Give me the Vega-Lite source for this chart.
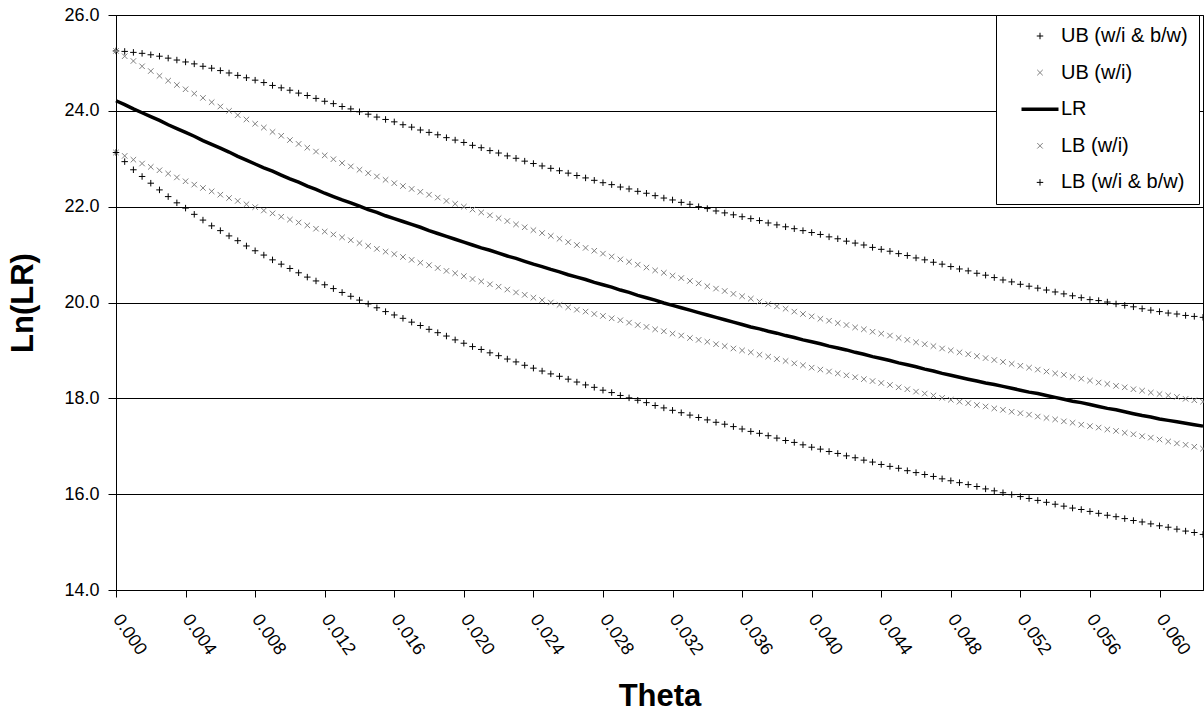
{
"$schema": "https://vega.github.io/schema/vega-lite/v6.json",
"width": 1087,
"height": 575,
"autosize": {"type": "none"},
"padding": {"left": 116, "top": 15, "right": 1, "bottom": 123},
"background": "white",
"config": {"font": "Liberation Sans", "view": {"stroke": "#000", "strokeWidth": 1}},
"datasets": {"curves": [
{"theta":0,"series":"UB (w/i & b/w)","lnLR":25.25},{"theta":0.0005,"series":"UB (w/i & b/w)","lnLR":25.24},{"theta":0.001,"series":"UB (w/i & b/w)","lnLR":25.22},{"theta":0.0015,"series":"UB (w/i & b/w)","lnLR":25.2},{"theta":0.002,"series":"UB (w/i & b/w)","lnLR":25.17},{"theta":0.0025,"series":"UB (w/i & b/w)","lnLR":25.14},{"theta":0.003,"series":"UB (w/i & b/w)","lnLR":25.1},{"theta":0.0035,"series":"UB (w/i & b/w)","lnLR":25.06},{"theta":0.004,"series":"UB (w/i & b/w)","lnLR":25.02},{"theta":0.0045,"series":"UB (w/i & b/w)","lnLR":24.98},{"theta":0.005,"series":"UB (w/i & b/w)","lnLR":24.93},{"theta":0.0055,"series":"UB (w/i & b/w)","lnLR":24.89},{"theta":0.006,"series":"UB (w/i & b/w)","lnLR":24.84},{"theta":0.0065,"series":"UB (w/i & b/w)","lnLR":24.79},{"theta":0.007,"series":"UB (w/i & b/w)","lnLR":24.74},{"theta":0.0075,"series":"UB (w/i & b/w)","lnLR":24.69},{"theta":0.008,"series":"UB (w/i & b/w)","lnLR":24.64},{"theta":0.0085,"series":"UB (w/i & b/w)","lnLR":24.59},{"theta":0.009,"series":"UB (w/i & b/w)","lnLR":24.53},{"theta":0.0095,"series":"UB (w/i & b/w)","lnLR":24.48},{"theta":0.01,"series":"UB (w/i & b/w)","lnLR":24.43},{"theta":0.0105,"series":"UB (w/i & b/w)","lnLR":24.37},{"theta":0.011,"series":"UB (w/i & b/w)","lnLR":24.32},{"theta":0.0115,"series":"UB (w/i & b/w)","lnLR":24.26},{"theta":0.012,"series":"UB (w/i & b/w)","lnLR":24.2},{"theta":0.0125,"series":"UB (w/i & b/w)","lnLR":24.15},{"theta":0.013,"series":"UB (w/i & b/w)","lnLR":24.09},{"theta":0.0135,"series":"UB (w/i & b/w)","lnLR":24.04},{"theta":0.014,"series":"UB (w/i & b/w)","lnLR":23.98},{"theta":0.0145,"series":"UB (w/i & b/w)","lnLR":23.93},{"theta":0.015,"series":"UB (w/i & b/w)","lnLR":23.87},{"theta":0.0155,"series":"UB (w/i & b/w)","lnLR":23.82},{"theta":0.016,"series":"UB (w/i & b/w)","lnLR":23.77},{"theta":0.0165,"series":"UB (w/i & b/w)","lnLR":23.71},{"theta":0.017,"series":"UB (w/i & b/w)","lnLR":23.66},{"theta":0.0175,"series":"UB (w/i & b/w)","lnLR":23.6},{"theta":0.018,"series":"UB (w/i & b/w)","lnLR":23.55},{"theta":0.0185,"series":"UB (w/i & b/w)","lnLR":23.5},{"theta":0.019,"series":"UB (w/i & b/w)","lnLR":23.44},{"theta":0.0195,"series":"UB (w/i & b/w)","lnLR":23.39},{"theta":0.02,"series":"UB (w/i & b/w)","lnLR":23.34},{"theta":0.0205,"series":"UB (w/i & b/w)","lnLR":23.28},{"theta":0.021,"series":"UB (w/i & b/w)","lnLR":23.23},{"theta":0.0215,"series":"UB (w/i & b/w)","lnLR":23.17},{"theta":0.022,"series":"UB (w/i & b/w)","lnLR":23.12},{"theta":0.0225,"series":"UB (w/i & b/w)","lnLR":23.06},{"theta":0.023,"series":"UB (w/i & b/w)","lnLR":23.01},{"theta":0.0235,"series":"UB (w/i & b/w)","lnLR":22.95},{"theta":0.024,"series":"UB (w/i & b/w)","lnLR":22.9},{"theta":0.0245,"series":"UB (w/i & b/w)","lnLR":22.85},{"theta":0.025,"series":"UB (w/i & b/w)","lnLR":22.8},{"theta":0.0255,"series":"UB (w/i & b/w)","lnLR":22.75},{"theta":0.026,"series":"UB (w/i & b/w)","lnLR":22.7},{"theta":0.0265,"series":"UB (w/i & b/w)","lnLR":22.65},{"theta":0.027,"series":"UB (w/i & b/w)","lnLR":22.6},{"theta":0.0275,"series":"UB (w/i & b/w)","lnLR":22.55},{"theta":0.028,"series":"UB (w/i & b/w)","lnLR":22.5},{"theta":0.0285,"series":"UB (w/i & b/w)","lnLR":22.46},{"theta":0.029,"series":"UB (w/i & b/w)","lnLR":22.41},{"theta":0.0295,"series":"UB (w/i & b/w)","lnLR":22.37},{"theta":0.03,"series":"UB (w/i & b/w)","lnLR":22.32},{"theta":0.0305,"series":"UB (w/i & b/w)","lnLR":22.28},{"theta":0.031,"series":"UB (w/i & b/w)","lnLR":22.23},{"theta":0.0315,"series":"UB (w/i & b/w)","lnLR":22.18},{"theta":0.032,"series":"UB (w/i & b/w)","lnLR":22.14},{"theta":0.0325,"series":"UB (w/i & b/w)","lnLR":22.09},{"theta":0.033,"series":"UB (w/i & b/w)","lnLR":22.05},{"theta":0.0335,"series":"UB (w/i & b/w)","lnLR":22.0},{"theta":0.034,"series":"UB (w/i & b/w)","lnLR":21.96},{"theta":0.0345,"series":"UB (w/i & b/w)","lnLR":21.91},{"theta":0.035,"series":"UB (w/i & b/w)","lnLR":21.87},{"theta":0.0355,"series":"UB (w/i & b/w)","lnLR":21.83},{"theta":0.036,"series":"UB (w/i & b/w)","lnLR":21.79},{"theta":0.0365,"series":"UB (w/i & b/w)","lnLR":21.75},{"theta":0.037,"series":"UB (w/i & b/w)","lnLR":21.71},{"theta":0.0375,"series":"UB (w/i & b/w)","lnLR":21.66},{"theta":0.038,"series":"UB (w/i & b/w)","lnLR":21.62},{"theta":0.0385,"series":"UB (w/i & b/w)","lnLR":21.58},{"theta":0.039,"series":"UB (w/i & b/w)","lnLR":21.54},{"theta":0.0395,"series":"UB (w/i & b/w)","lnLR":21.5},{"theta":0.04,"series":"UB (w/i & b/w)","lnLR":21.46},{"theta":0.0405,"series":"UB (w/i & b/w)","lnLR":21.42},{"theta":0.041,"series":"UB (w/i & b/w)","lnLR":21.37},{"theta":0.0415,"series":"UB (w/i & b/w)","lnLR":21.33},{"theta":0.042,"series":"UB (w/i & b/w)","lnLR":21.28},{"theta":0.0425,"series":"UB (w/i & b/w)","lnLR":21.24},{"theta":0.043,"series":"UB (w/i & b/w)","lnLR":21.2},{"theta":0.0435,"series":"UB (w/i & b/w)","lnLR":21.15},{"theta":0.044,"series":"UB (w/i & b/w)","lnLR":21.11},{"theta":0.0445,"series":"UB (w/i & b/w)","lnLR":21.07},{"theta":0.045,"series":"UB (w/i & b/w)","lnLR":21.02},{"theta":0.0455,"series":"UB (w/i & b/w)","lnLR":20.98},{"theta":0.046,"series":"UB (w/i & b/w)","lnLR":20.93},{"theta":0.0465,"series":"UB (w/i & b/w)","lnLR":20.89},{"theta":0.047,"series":"UB (w/i & b/w)","lnLR":20.84},{"theta":0.0475,"series":"UB (w/i & b/w)","lnLR":20.8},{"theta":0.048,"series":"UB (w/i & b/w)","lnLR":20.75},{"theta":0.0485,"series":"UB (w/i & b/w)","lnLR":20.7},{"theta":0.049,"series":"UB (w/i & b/w)","lnLR":20.66},{"theta":0.0495,"series":"UB (w/i & b/w)","lnLR":20.61},{"theta":0.05,"series":"UB (w/i & b/w)","lnLR":20.57},{"theta":0.0505,"series":"UB (w/i & b/w)","lnLR":20.52},{"theta":0.051,"series":"UB (w/i & b/w)","lnLR":20.47},{"theta":0.0515,"series":"UB (w/i & b/w)","lnLR":20.43},{"theta":0.052,"series":"UB (w/i & b/w)","lnLR":20.38},{"theta":0.0525,"series":"UB (w/i & b/w)","lnLR":20.34},{"theta":0.053,"series":"UB (w/i & b/w)","lnLR":20.3},{"theta":0.0535,"series":"UB (w/i & b/w)","lnLR":20.26},{"theta":0.054,"series":"UB (w/i & b/w)","lnLR":20.22},{"theta":0.0545,"series":"UB (w/i & b/w)","lnLR":20.18},{"theta":0.055,"series":"UB (w/i & b/w)","lnLR":20.14},{"theta":0.0555,"series":"UB (w/i & b/w)","lnLR":20.1},{"theta":0.056,"series":"UB (w/i & b/w)","lnLR":20.06},{"theta":0.0565,"series":"UB (w/i & b/w)","lnLR":20.04},{"theta":0.057,"series":"UB (w/i & b/w)","lnLR":20.01},{"theta":0.0575,"series":"UB (w/i & b/w)","lnLR":19.97},{"theta":0.058,"series":"UB (w/i & b/w)","lnLR":19.94},{"theta":0.0585,"series":"UB (w/i & b/w)","lnLR":19.91},{"theta":0.059,"series":"UB (w/i & b/w)","lnLR":19.87},{"theta":0.0595,"series":"UB (w/i & b/w)","lnLR":19.84},{"theta":0.06,"series":"UB (w/i & b/w)","lnLR":19.81},{"theta":0.0605,"series":"UB (w/i & b/w)","lnLR":19.78},{"theta":0.061,"series":"UB (w/i & b/w)","lnLR":19.76},{"theta":0.0615,"series":"UB (w/i & b/w)","lnLR":19.73},{"theta":0.062,"series":"UB (w/i & b/w)","lnLR":19.71},{"theta":0.0625,"series":"UB (w/i & b/w)","lnLR":19.69},
{"theta":0,"series":"UB (w/i)","lnLR":25.25},{"theta":0.0005,"series":"UB (w/i)","lnLR":25.14},{"theta":0.001,"series":"UB (w/i)","lnLR":25.04},{"theta":0.0015,"series":"UB (w/i)","lnLR":24.93},{"theta":0.002,"series":"UB (w/i)","lnLR":24.83},{"theta":0.0025,"series":"UB (w/i)","lnLR":24.73},{"theta":0.003,"series":"UB (w/i)","lnLR":24.63},{"theta":0.0035,"series":"UB (w/i)","lnLR":24.54},{"theta":0.004,"series":"UB (w/i)","lnLR":24.45},{"theta":0.0045,"series":"UB (w/i)","lnLR":24.36},{"theta":0.005,"series":"UB (w/i)","lnLR":24.27},{"theta":0.0055,"series":"UB (w/i)","lnLR":24.18},{"theta":0.006,"series":"UB (w/i)","lnLR":24.09},{"theta":0.0065,"series":"UB (w/i)","lnLR":24.0},{"theta":0.007,"series":"UB (w/i)","lnLR":23.91},{"theta":0.0075,"series":"UB (w/i)","lnLR":23.82},{"theta":0.008,"series":"UB (w/i)","lnLR":23.73},{"theta":0.0085,"series":"UB (w/i)","lnLR":23.65},{"theta":0.009,"series":"UB (w/i)","lnLR":23.56},{"theta":0.0095,"series":"UB (w/i)","lnLR":23.48},{"theta":0.01,"series":"UB (w/i)","lnLR":23.39},{"theta":0.0105,"series":"UB (w/i)","lnLR":23.31},{"theta":0.011,"series":"UB (w/i)","lnLR":23.23},{"theta":0.0115,"series":"UB (w/i)","lnLR":23.15},{"theta":0.012,"series":"UB (w/i)","lnLR":23.07},{"theta":0.0125,"series":"UB (w/i)","lnLR":22.99},{"theta":0.013,"series":"UB (w/i)","lnLR":22.91},{"theta":0.0135,"series":"UB (w/i)","lnLR":22.84},{"theta":0.014,"series":"UB (w/i)","lnLR":22.77},{"theta":0.0145,"series":"UB (w/i)","lnLR":22.7},{"theta":0.015,"series":"UB (w/i)","lnLR":22.63},{"theta":0.0155,"series":"UB (w/i)","lnLR":22.56},{"theta":0.016,"series":"UB (w/i)","lnLR":22.49},{"theta":0.0165,"series":"UB (w/i)","lnLR":22.43},{"theta":0.017,"series":"UB (w/i)","lnLR":22.37},{"theta":0.0175,"series":"UB (w/i)","lnLR":22.31},{"theta":0.018,"series":"UB (w/i)","lnLR":22.25},{"theta":0.0185,"series":"UB (w/i)","lnLR":22.19},{"theta":0.019,"series":"UB (w/i)","lnLR":22.12},{"theta":0.0195,"series":"UB (w/i)","lnLR":22.06},{"theta":0.02,"series":"UB (w/i)","lnLR":22.0},{"theta":0.0205,"series":"UB (w/i)","lnLR":21.94},{"theta":0.021,"series":"UB (w/i)","lnLR":21.88},{"theta":0.0215,"series":"UB (w/i)","lnLR":21.82},{"theta":0.022,"series":"UB (w/i)","lnLR":21.76},{"theta":0.0225,"series":"UB (w/i)","lnLR":21.7},{"theta":0.023,"series":"UB (w/i)","lnLR":21.63},{"theta":0.0235,"series":"UB (w/i)","lnLR":21.57},{"theta":0.024,"series":"UB (w/i)","lnLR":21.51},{"theta":0.0245,"series":"UB (w/i)","lnLR":21.45},{"theta":0.025,"series":"UB (w/i)","lnLR":21.39},{"theta":0.0255,"series":"UB (w/i)","lnLR":21.33},{"theta":0.026,"series":"UB (w/i)","lnLR":21.26},{"theta":0.0265,"series":"UB (w/i)","lnLR":21.2},{"theta":0.027,"series":"UB (w/i)","lnLR":21.14},{"theta":0.0275,"series":"UB (w/i)","lnLR":21.08},{"theta":0.028,"series":"UB (w/i)","lnLR":21.02},{"theta":0.0285,"series":"UB (w/i)","lnLR":20.96},{"theta":0.029,"series":"UB (w/i)","lnLR":20.9},{"theta":0.0295,"series":"UB (w/i)","lnLR":20.85},{"theta":0.03,"series":"UB (w/i)","lnLR":20.79},{"theta":0.0305,"series":"UB (w/i)","lnLR":20.73},{"theta":0.031,"series":"UB (w/i)","lnLR":20.67},{"theta":0.0315,"series":"UB (w/i)","lnLR":20.62},{"theta":0.032,"series":"UB (w/i)","lnLR":20.56},{"theta":0.0325,"series":"UB (w/i)","lnLR":20.51},{"theta":0.033,"series":"UB (w/i)","lnLR":20.45},{"theta":0.0335,"series":"UB (w/i)","lnLR":20.4},{"theta":0.034,"series":"UB (w/i)","lnLR":20.34},{"theta":0.0345,"series":"UB (w/i)","lnLR":20.29},{"theta":0.035,"series":"UB (w/i)","lnLR":20.24},{"theta":0.0355,"series":"UB (w/i)","lnLR":20.18},{"theta":0.036,"series":"UB (w/i)","lnLR":20.13},{"theta":0.0365,"series":"UB (w/i)","lnLR":20.08},{"theta":0.037,"series":"UB (w/i)","lnLR":20.02},{"theta":0.0375,"series":"UB (w/i)","lnLR":19.97},{"theta":0.038,"series":"UB (w/i)","lnLR":19.92},{"theta":0.0385,"series":"UB (w/i)","lnLR":19.87},{"theta":0.039,"series":"UB (w/i)","lnLR":19.81},{"theta":0.0395,"series":"UB (w/i)","lnLR":19.76},{"theta":0.04,"series":"UB (w/i)","lnLR":19.71},{"theta":0.0405,"series":"UB (w/i)","lnLR":19.66},{"theta":0.041,"series":"UB (w/i)","lnLR":19.62},{"theta":0.0415,"series":"UB (w/i)","lnLR":19.57},{"theta":0.042,"series":"UB (w/i)","lnLR":19.53},{"theta":0.0425,"series":"UB (w/i)","lnLR":19.48},{"theta":0.043,"series":"UB (w/i)","lnLR":19.44},{"theta":0.0435,"series":"UB (w/i)","lnLR":19.39},{"theta":0.044,"series":"UB (w/i)","lnLR":19.35},{"theta":0.0445,"series":"UB (w/i)","lnLR":19.31},{"theta":0.045,"series":"UB (w/i)","lnLR":19.26},{"theta":0.0455,"series":"UB (w/i)","lnLR":19.22},{"theta":0.046,"series":"UB (w/i)","lnLR":19.17},{"theta":0.0465,"series":"UB (w/i)","lnLR":19.13},{"theta":0.047,"series":"UB (w/i)","lnLR":19.09},{"theta":0.0475,"series":"UB (w/i)","lnLR":19.04},{"theta":0.048,"series":"UB (w/i)","lnLR":19.0},{"theta":0.0485,"series":"UB (w/i)","lnLR":18.96},{"theta":0.049,"series":"UB (w/i)","lnLR":18.92},{"theta":0.0495,"series":"UB (w/i)","lnLR":18.88},{"theta":0.05,"series":"UB (w/i)","lnLR":18.84},{"theta":0.0505,"series":"UB (w/i)","lnLR":18.8},{"theta":0.051,"series":"UB (w/i)","lnLR":18.76},{"theta":0.0515,"series":"UB (w/i)","lnLR":18.72},{"theta":0.052,"series":"UB (w/i)","lnLR":18.68},{"theta":0.0525,"series":"UB (w/i)","lnLR":18.64},{"theta":0.053,"series":"UB (w/i)","lnLR":18.6},{"theta":0.0535,"series":"UB (w/i)","lnLR":18.56},{"theta":0.054,"series":"UB (w/i)","lnLR":18.52},{"theta":0.0545,"series":"UB (w/i)","lnLR":18.49},{"theta":0.055,"series":"UB (w/i)","lnLR":18.45},{"theta":0.0555,"series":"UB (w/i)","lnLR":18.41},{"theta":0.056,"series":"UB (w/i)","lnLR":18.37},{"theta":0.0565,"series":"UB (w/i)","lnLR":18.33},{"theta":0.057,"series":"UB (w/i)","lnLR":18.3},{"theta":0.0575,"series":"UB (w/i)","lnLR":18.26},{"theta":0.058,"series":"UB (w/i)","lnLR":18.23},{"theta":0.0585,"series":"UB (w/i)","lnLR":18.19},{"theta":0.059,"series":"UB (w/i)","lnLR":18.16},{"theta":0.0595,"series":"UB (w/i)","lnLR":18.12},{"theta":0.06,"series":"UB (w/i)","lnLR":18.09},{"theta":0.0605,"series":"UB (w/i)","lnLR":18.06},{"theta":0.061,"series":"UB (w/i)","lnLR":18.03},{"theta":0.0615,"series":"UB (w/i)","lnLR":17.99},{"theta":0.062,"series":"UB (w/i)","lnLR":17.96},{"theta":0.0625,"series":"UB (w/i)","lnLR":17.93},
{"theta":0,"series":"LR","lnLR":24.21},{"theta":0.0005,"series":"LR","lnLR":24.13},{"theta":0.001,"series":"LR","lnLR":24.04},{"theta":0.0015,"series":"LR","lnLR":23.96},{"theta":0.002,"series":"LR","lnLR":23.88},{"theta":0.0025,"series":"LR","lnLR":23.8},{"theta":0.003,"series":"LR","lnLR":23.71},{"theta":0.0035,"series":"LR","lnLR":23.63},{"theta":0.004,"series":"LR","lnLR":23.55},{"theta":0.0045,"series":"LR","lnLR":23.47},{"theta":0.005,"series":"LR","lnLR":23.38},{"theta":0.0055,"series":"LR","lnLR":23.3},{"theta":0.006,"series":"LR","lnLR":23.22},{"theta":0.0065,"series":"LR","lnLR":23.14},{"theta":0.007,"series":"LR","lnLR":23.05},{"theta":0.0075,"series":"LR","lnLR":22.97},{"theta":0.008,"series":"LR","lnLR":22.89},{"theta":0.0085,"series":"LR","lnLR":22.81},{"theta":0.009,"series":"LR","lnLR":22.74},{"theta":0.0095,"series":"LR","lnLR":22.66},{"theta":0.01,"series":"LR","lnLR":22.58},{"theta":0.0105,"series":"LR","lnLR":22.51},{"theta":0.011,"series":"LR","lnLR":22.43},{"theta":0.0115,"series":"LR","lnLR":22.36},{"theta":0.012,"series":"LR","lnLR":22.28},{"theta":0.0125,"series":"LR","lnLR":22.21},{"theta":0.013,"series":"LR","lnLR":22.14},{"theta":0.0135,"series":"LR","lnLR":22.08},{"theta":0.014,"series":"LR","lnLR":22.01},{"theta":0.0145,"series":"LR","lnLR":21.94},{"theta":0.015,"series":"LR","lnLR":21.88},{"theta":0.0155,"series":"LR","lnLR":21.81},{"theta":0.016,"series":"LR","lnLR":21.75},{"theta":0.0165,"series":"LR","lnLR":21.69},{"theta":0.017,"series":"LR","lnLR":21.63},{"theta":0.0175,"series":"LR","lnLR":21.57},{"theta":0.018,"series":"LR","lnLR":21.5},{"theta":0.0185,"series":"LR","lnLR":21.44},{"theta":0.019,"series":"LR","lnLR":21.38},{"theta":0.0195,"series":"LR","lnLR":21.32},{"theta":0.02,"series":"LR","lnLR":21.26},{"theta":0.0205,"series":"LR","lnLR":21.2},{"theta":0.021,"series":"LR","lnLR":21.14},{"theta":0.0215,"series":"LR","lnLR":21.09},{"theta":0.022,"series":"LR","lnLR":21.03},{"theta":0.0225,"series":"LR","lnLR":20.97},{"theta":0.023,"series":"LR","lnLR":20.92},{"theta":0.0235,"series":"LR","lnLR":20.86},{"theta":0.024,"series":"LR","lnLR":20.8},{"theta":0.0245,"series":"LR","lnLR":20.75},{"theta":0.025,"series":"LR","lnLR":20.69},{"theta":0.0255,"series":"LR","lnLR":20.64},{"theta":0.026,"series":"LR","lnLR":20.58},{"theta":0.0265,"series":"LR","lnLR":20.53},{"theta":0.027,"series":"LR","lnLR":20.48},{"theta":0.0275,"series":"LR","lnLR":20.42},{"theta":0.028,"series":"LR","lnLR":20.37},{"theta":0.0285,"series":"LR","lnLR":20.32},{"theta":0.029,"series":"LR","lnLR":20.26},{"theta":0.0295,"series":"LR","lnLR":20.21},{"theta":0.03,"series":"LR","lnLR":20.15},{"theta":0.0305,"series":"LR","lnLR":20.1},{"theta":0.031,"series":"LR","lnLR":20.05},{"theta":0.0315,"series":"LR","lnLR":19.99},{"theta":0.032,"series":"LR","lnLR":19.94},{"theta":0.0325,"series":"LR","lnLR":19.89},{"theta":0.033,"series":"LR","lnLR":19.84},{"theta":0.0335,"series":"LR","lnLR":19.79},{"theta":0.034,"series":"LR","lnLR":19.74},{"theta":0.0345,"series":"LR","lnLR":19.69},{"theta":0.035,"series":"LR","lnLR":19.64},{"theta":0.0355,"series":"LR","lnLR":19.59},{"theta":0.036,"series":"LR","lnLR":19.54},{"theta":0.0365,"series":"LR","lnLR":19.49},{"theta":0.037,"series":"LR","lnLR":19.45},{"theta":0.0375,"series":"LR","lnLR":19.4},{"theta":0.038,"series":"LR","lnLR":19.36},{"theta":0.0385,"series":"LR","lnLR":19.31},{"theta":0.039,"series":"LR","lnLR":19.27},{"theta":0.0395,"series":"LR","lnLR":19.22},{"theta":0.04,"series":"LR","lnLR":19.18},{"theta":0.0405,"series":"LR","lnLR":19.14},{"theta":0.041,"series":"LR","lnLR":19.09},{"theta":0.0415,"series":"LR","lnLR":19.05},{"theta":0.042,"series":"LR","lnLR":19.01},{"theta":0.0425,"series":"LR","lnLR":18.96},{"theta":0.043,"series":"LR","lnLR":18.92},{"theta":0.0435,"series":"LR","lnLR":18.87},{"theta":0.044,"series":"LR","lnLR":18.83},{"theta":0.0445,"series":"LR","lnLR":18.79},{"theta":0.045,"series":"LR","lnLR":18.74},{"theta":0.0455,"series":"LR","lnLR":18.7},{"theta":0.046,"series":"LR","lnLR":18.66},{"theta":0.0465,"series":"LR","lnLR":18.61},{"theta":0.047,"series":"LR","lnLR":18.57},{"theta":0.0475,"series":"LR","lnLR":18.52},{"theta":0.048,"series":"LR","lnLR":18.48},{"theta":0.0485,"series":"LR","lnLR":18.44},{"theta":0.049,"series":"LR","lnLR":18.4},{"theta":0.0495,"series":"LR","lnLR":18.36},{"theta":0.05,"series":"LR","lnLR":18.32},{"theta":0.0505,"series":"LR","lnLR":18.29},{"theta":0.051,"series":"LR","lnLR":18.25},{"theta":0.0515,"series":"LR","lnLR":18.21},{"theta":0.052,"series":"LR","lnLR":18.17},{"theta":0.0525,"series":"LR","lnLR":18.13},{"theta":0.053,"series":"LR","lnLR":18.1},{"theta":0.0535,"series":"LR","lnLR":18.06},{"theta":0.054,"series":"LR","lnLR":18.02},{"theta":0.0545,"series":"LR","lnLR":17.98},{"theta":0.055,"series":"LR","lnLR":17.94},{"theta":0.0555,"series":"LR","lnLR":17.91},{"theta":0.056,"series":"LR","lnLR":17.87},{"theta":0.0565,"series":"LR","lnLR":17.83},{"theta":0.057,"series":"LR","lnLR":17.79},{"theta":0.0575,"series":"LR","lnLR":17.76},{"theta":0.058,"series":"LR","lnLR":17.72},{"theta":0.0585,"series":"LR","lnLR":17.68},{"theta":0.059,"series":"LR","lnLR":17.64},{"theta":0.0595,"series":"LR","lnLR":17.61},{"theta":0.06,"series":"LR","lnLR":17.57},{"theta":0.0605,"series":"LR","lnLR":17.54},{"theta":0.061,"series":"LR","lnLR":17.51},{"theta":0.0615,"series":"LR","lnLR":17.48},{"theta":0.062,"series":"LR","lnLR":17.45},{"theta":0.0625,"series":"LR","lnLR":17.42},
{"theta":0,"series":"LB (w/i)","lnLR":23.13},{"theta":0.0005,"series":"LB (w/i)","lnLR":23.06},{"theta":0.001,"series":"LB (w/i)","lnLR":22.98},{"theta":0.0015,"series":"LB (w/i)","lnLR":22.9},{"theta":0.002,"series":"LB (w/i)","lnLR":22.83},{"theta":0.0025,"series":"LB (w/i)","lnLR":22.76},{"theta":0.003,"series":"LB (w/i)","lnLR":22.69},{"theta":0.0035,"series":"LB (w/i)","lnLR":22.61},{"theta":0.004,"series":"LB (w/i)","lnLR":22.53},{"theta":0.0045,"series":"LB (w/i)","lnLR":22.46},{"theta":0.005,"series":"LB (w/i)","lnLR":22.39},{"theta":0.0055,"series":"LB (w/i)","lnLR":22.32},{"theta":0.006,"series":"LB (w/i)","lnLR":22.25},{"theta":0.0065,"series":"LB (w/i)","lnLR":22.18},{"theta":0.007,"series":"LB (w/i)","lnLR":22.12},{"theta":0.0075,"series":"LB (w/i)","lnLR":22.05},{"theta":0.008,"series":"LB (w/i)","lnLR":21.99},{"theta":0.0085,"series":"LB (w/i)","lnLR":21.92},{"theta":0.009,"series":"LB (w/i)","lnLR":21.86},{"theta":0.0095,"series":"LB (w/i)","lnLR":21.79},{"theta":0.01,"series":"LB (w/i)","lnLR":21.73},{"theta":0.0105,"series":"LB (w/i)","lnLR":21.67},{"theta":0.011,"series":"LB (w/i)","lnLR":21.61},{"theta":0.0115,"series":"LB (w/i)","lnLR":21.54},{"theta":0.012,"series":"LB (w/i)","lnLR":21.48},{"theta":0.0125,"series":"LB (w/i)","lnLR":21.42},{"theta":0.013,"series":"LB (w/i)","lnLR":21.36},{"theta":0.0135,"series":"LB (w/i)","lnLR":21.3},{"theta":0.014,"series":"LB (w/i)","lnLR":21.24},{"theta":0.0145,"series":"LB (w/i)","lnLR":21.18},{"theta":0.015,"series":"LB (w/i)","lnLR":21.12},{"theta":0.0155,"series":"LB (w/i)","lnLR":21.06},{"theta":0.016,"series":"LB (w/i)","lnLR":21.01},{"theta":0.0165,"series":"LB (w/i)","lnLR":20.95},{"theta":0.017,"series":"LB (w/i)","lnLR":20.89},{"theta":0.0175,"series":"LB (w/i)","lnLR":20.83},{"theta":0.018,"series":"LB (w/i)","lnLR":20.78},{"theta":0.0185,"series":"LB (w/i)","lnLR":20.72},{"theta":0.019,"series":"LB (w/i)","lnLR":20.66},{"theta":0.0195,"series":"LB (w/i)","lnLR":20.61},{"theta":0.02,"series":"LB (w/i)","lnLR":20.55},{"theta":0.0205,"series":"LB (w/i)","lnLR":20.49},{"theta":0.021,"series":"LB (w/i)","lnLR":20.44},{"theta":0.0215,"series":"LB (w/i)","lnLR":20.38},{"theta":0.022,"series":"LB (w/i)","lnLR":20.33},{"theta":0.0225,"series":"LB (w/i)","lnLR":20.27},{"theta":0.023,"series":"LB (w/i)","lnLR":20.21},{"theta":0.0235,"series":"LB (w/i)","lnLR":20.16},{"theta":0.024,"series":"LB (w/i)","lnLR":20.1},{"theta":0.0245,"series":"LB (w/i)","lnLR":20.05},{"theta":0.025,"series":"LB (w/i)","lnLR":20.0},{"theta":0.0255,"series":"LB (w/i)","lnLR":19.95},{"theta":0.026,"series":"LB (w/i)","lnLR":19.9},{"theta":0.0265,"series":"LB (w/i)","lnLR":19.85},{"theta":0.027,"series":"LB (w/i)","lnLR":19.81},{"theta":0.0275,"series":"LB (w/i)","lnLR":19.76},{"theta":0.028,"series":"LB (w/i)","lnLR":19.72},{"theta":0.0285,"series":"LB (w/i)","lnLR":19.67},{"theta":0.029,"series":"LB (w/i)","lnLR":19.63},{"theta":0.0295,"series":"LB (w/i)","lnLR":19.58},{"theta":0.03,"series":"LB (w/i)","lnLR":19.53},{"theta":0.0305,"series":"LB (w/i)","lnLR":19.49},{"theta":0.031,"series":"LB (w/i)","lnLR":19.44},{"theta":0.0315,"series":"LB (w/i)","lnLR":19.4},{"theta":0.032,"series":"LB (w/i)","lnLR":19.35},{"theta":0.0325,"series":"LB (w/i)","lnLR":19.31},{"theta":0.033,"series":"LB (w/i)","lnLR":19.26},{"theta":0.0335,"series":"LB (w/i)","lnLR":19.22},{"theta":0.034,"series":"LB (w/i)","lnLR":19.18},{"theta":0.0345,"series":"LB (w/i)","lnLR":19.13},{"theta":0.035,"series":"LB (w/i)","lnLR":19.09},{"theta":0.0355,"series":"LB (w/i)","lnLR":19.04},{"theta":0.036,"series":"LB (w/i)","lnLR":19.0},{"theta":0.0365,"series":"LB (w/i)","lnLR":18.96},{"theta":0.037,"series":"LB (w/i)","lnLR":18.91},{"theta":0.0375,"series":"LB (w/i)","lnLR":18.87},{"theta":0.038,"series":"LB (w/i)","lnLR":18.82},{"theta":0.0385,"series":"LB (w/i)","lnLR":18.78},{"theta":0.039,"series":"LB (w/i)","lnLR":18.73},{"theta":0.0395,"series":"LB (w/i)","lnLR":18.69},{"theta":0.04,"series":"LB (w/i)","lnLR":18.64},{"theta":0.0405,"series":"LB (w/i)","lnLR":18.6},{"theta":0.041,"series":"LB (w/i)","lnLR":18.56},{"theta":0.0415,"series":"LB (w/i)","lnLR":18.52},{"theta":0.042,"series":"LB (w/i)","lnLR":18.48},{"theta":0.0425,"series":"LB (w/i)","lnLR":18.44},{"theta":0.043,"series":"LB (w/i)","lnLR":18.4},{"theta":0.0435,"series":"LB (w/i)","lnLR":18.36},{"theta":0.044,"series":"LB (w/i)","lnLR":18.32},{"theta":0.0445,"series":"LB (w/i)","lnLR":18.28},{"theta":0.045,"series":"LB (w/i)","lnLR":18.23},{"theta":0.0455,"series":"LB (w/i)","lnLR":18.19},{"theta":0.046,"series":"LB (w/i)","lnLR":18.14},{"theta":0.0465,"series":"LB (w/i)","lnLR":18.1},{"theta":0.047,"series":"LB (w/i)","lnLR":18.06},{"theta":0.0475,"series":"LB (w/i)","lnLR":18.01},{"theta":0.048,"series":"LB (w/i)","lnLR":17.97},{"theta":0.0485,"series":"LB (w/i)","lnLR":17.93},{"theta":0.049,"series":"LB (w/i)","lnLR":17.9},{"theta":0.0495,"series":"LB (w/i)","lnLR":17.86},{"theta":0.05,"series":"LB (w/i)","lnLR":17.83},{"theta":0.0505,"series":"LB (w/i)","lnLR":17.79},{"theta":0.051,"series":"LB (w/i)","lnLR":17.76},{"theta":0.0515,"series":"LB (w/i)","lnLR":17.72},{"theta":0.052,"series":"LB (w/i)","lnLR":17.69},{"theta":0.0525,"series":"LB (w/i)","lnLR":17.66},{"theta":0.053,"series":"LB (w/i)","lnLR":17.62},{"theta":0.0535,"series":"LB (w/i)","lnLR":17.59},{"theta":0.054,"series":"LB (w/i)","lnLR":17.56},{"theta":0.0545,"series":"LB (w/i)","lnLR":17.52},{"theta":0.055,"series":"LB (w/i)","lnLR":17.49},{"theta":0.0555,"series":"LB (w/i)","lnLR":17.45},{"theta":0.056,"series":"LB (w/i)","lnLR":17.42},{"theta":0.0565,"series":"LB (w/i)","lnLR":17.39},{"theta":0.057,"series":"LB (w/i)","lnLR":17.35},{"theta":0.0575,"series":"LB (w/i)","lnLR":17.32},{"theta":0.058,"series":"LB (w/i)","lnLR":17.28},{"theta":0.0585,"series":"LB (w/i)","lnLR":17.25},{"theta":0.059,"series":"LB (w/i)","lnLR":17.21},{"theta":0.0595,"series":"LB (w/i)","lnLR":17.18},{"theta":0.06,"series":"LB (w/i)","lnLR":17.14},{"theta":0.0605,"series":"LB (w/i)","lnLR":17.1},{"theta":0.061,"series":"LB (w/i)","lnLR":17.06},{"theta":0.0615,"series":"LB (w/i)","lnLR":17.03},{"theta":0.062,"series":"LB (w/i)","lnLR":16.99},{"theta":0.0625,"series":"LB (w/i)","lnLR":16.95},
{"theta":0,"series":"LB (w/i & b/w)","lnLR":23.13},{"theta":0.0005,"series":"LB (w/i & b/w)","lnLR":22.94},{"theta":0.001,"series":"LB (w/i & b/w)","lnLR":22.77},{"theta":0.0015,"series":"LB (w/i & b/w)","lnLR":22.63},{"theta":0.002,"series":"LB (w/i & b/w)","lnLR":22.49},{"theta":0.0025,"series":"LB (w/i & b/w)","lnLR":22.35},{"theta":0.003,"series":"LB (w/i & b/w)","lnLR":22.21},{"theta":0.0035,"series":"LB (w/i & b/w)","lnLR":22.08},{"theta":0.004,"series":"LB (w/i & b/w)","lnLR":21.97},{"theta":0.0045,"series":"LB (w/i & b/w)","lnLR":21.84},{"theta":0.005,"series":"LB (w/i & b/w)","lnLR":21.72},{"theta":0.0055,"series":"LB (w/i & b/w)","lnLR":21.6},{"theta":0.006,"series":"LB (w/i & b/w)","lnLR":21.5},{"theta":0.0065,"series":"LB (w/i & b/w)","lnLR":21.39},{"theta":0.007,"series":"LB (w/i & b/w)","lnLR":21.29},{"theta":0.0075,"series":"LB (w/i & b/w)","lnLR":21.18},{"theta":0.008,"series":"LB (w/i & b/w)","lnLR":21.08},{"theta":0.0085,"series":"LB (w/i & b/w)","lnLR":20.99},{"theta":0.009,"series":"LB (w/i & b/w)","lnLR":20.89},{"theta":0.0095,"series":"LB (w/i & b/w)","lnLR":20.8},{"theta":0.01,"series":"LB (w/i & b/w)","lnLR":20.71},{"theta":0.0105,"series":"LB (w/i & b/w)","lnLR":20.62},{"theta":0.011,"series":"LB (w/i & b/w)","lnLR":20.53},{"theta":0.0115,"series":"LB (w/i & b/w)","lnLR":20.45},{"theta":0.012,"series":"LB (w/i & b/w)","lnLR":20.37},{"theta":0.0125,"series":"LB (w/i & b/w)","lnLR":20.29},{"theta":0.013,"series":"LB (w/i & b/w)","lnLR":20.21},{"theta":0.0135,"series":"LB (w/i & b/w)","lnLR":20.13},{"theta":0.014,"series":"LB (w/i & b/w)","lnLR":20.05},{"theta":0.0145,"series":"LB (w/i & b/w)","lnLR":19.97},{"theta":0.015,"series":"LB (w/i & b/w)","lnLR":19.89},{"theta":0.0155,"series":"LB (w/i & b/w)","lnLR":19.81},{"theta":0.016,"series":"LB (w/i & b/w)","lnLR":19.74},{"theta":0.0165,"series":"LB (w/i & b/w)","lnLR":19.67},{"theta":0.017,"series":"LB (w/i & b/w)","lnLR":19.59},{"theta":0.0175,"series":"LB (w/i & b/w)","lnLR":19.52},{"theta":0.018,"series":"LB (w/i & b/w)","lnLR":19.44},{"theta":0.0185,"series":"LB (w/i & b/w)","lnLR":19.37},{"theta":0.019,"series":"LB (w/i & b/w)","lnLR":19.3},{"theta":0.0195,"series":"LB (w/i & b/w)","lnLR":19.22},{"theta":0.02,"series":"LB (w/i & b/w)","lnLR":19.15},{"theta":0.0205,"series":"LB (w/i & b/w)","lnLR":19.08},{"theta":0.021,"series":"LB (w/i & b/w)","lnLR":19.02},{"theta":0.0215,"series":"LB (w/i & b/w)","lnLR":18.95},{"theta":0.022,"series":"LB (w/i & b/w)","lnLR":18.89},{"theta":0.0225,"series":"LB (w/i & b/w)","lnLR":18.82},{"theta":0.023,"series":"LB (w/i & b/w)","lnLR":18.76},{"theta":0.0235,"series":"LB (w/i & b/w)","lnLR":18.69},{"theta":0.024,"series":"LB (w/i & b/w)","lnLR":18.63},{"theta":0.0245,"series":"LB (w/i & b/w)","lnLR":18.57},{"theta":0.025,"series":"LB (w/i & b/w)","lnLR":18.51},{"theta":0.0255,"series":"LB (w/i & b/w)","lnLR":18.46},{"theta":0.026,"series":"LB (w/i & b/w)","lnLR":18.4},{"theta":0.0265,"series":"LB (w/i & b/w)","lnLR":18.34},{"theta":0.027,"series":"LB (w/i & b/w)","lnLR":18.28},{"theta":0.0275,"series":"LB (w/i & b/w)","lnLR":18.23},{"theta":0.028,"series":"LB (w/i & b/w)","lnLR":18.17},{"theta":0.0285,"series":"LB (w/i & b/w)","lnLR":18.12},{"theta":0.029,"series":"LB (w/i & b/w)","lnLR":18.06},{"theta":0.0295,"series":"LB (w/i & b/w)","lnLR":18.01},{"theta":0.03,"series":"LB (w/i & b/w)","lnLR":17.96},{"theta":0.0305,"series":"LB (w/i & b/w)","lnLR":17.91},{"theta":0.031,"series":"LB (w/i & b/w)","lnLR":17.85},{"theta":0.0315,"series":"LB (w/i & b/w)","lnLR":17.8},{"theta":0.032,"series":"LB (w/i & b/w)","lnLR":17.75},{"theta":0.0325,"series":"LB (w/i & b/w)","lnLR":17.7},{"theta":0.033,"series":"LB (w/i & b/w)","lnLR":17.65},{"theta":0.0335,"series":"LB (w/i & b/w)","lnLR":17.6},{"theta":0.034,"series":"LB (w/i & b/w)","lnLR":17.55},{"theta":0.0345,"series":"LB (w/i & b/w)","lnLR":17.5},{"theta":0.035,"series":"LB (w/i & b/w)","lnLR":17.46},{"theta":0.0355,"series":"LB (w/i & b/w)","lnLR":17.41},{"theta":0.036,"series":"LB (w/i & b/w)","lnLR":17.36},{"theta":0.0365,"series":"LB (w/i & b/w)","lnLR":17.31},{"theta":0.037,"series":"LB (w/i & b/w)","lnLR":17.27},{"theta":0.0375,"series":"LB (w/i & b/w)","lnLR":17.22},{"theta":0.038,"series":"LB (w/i & b/w)","lnLR":17.17},{"theta":0.0385,"series":"LB (w/i & b/w)","lnLR":17.12},{"theta":0.039,"series":"LB (w/i & b/w)","lnLR":17.08},{"theta":0.0395,"series":"LB (w/i & b/w)","lnLR":17.03},{"theta":0.04,"series":"LB (w/i & b/w)","lnLR":16.98},{"theta":0.0405,"series":"LB (w/i & b/w)","lnLR":16.94},{"theta":0.041,"series":"LB (w/i & b/w)","lnLR":16.89},{"theta":0.0415,"series":"LB (w/i & b/w)","lnLR":16.85},{"theta":0.042,"series":"LB (w/i & b/w)","lnLR":16.8},{"theta":0.0425,"series":"LB (w/i & b/w)","lnLR":16.76},{"theta":0.043,"series":"LB (w/i & b/w)","lnLR":16.71},{"theta":0.0435,"series":"LB (w/i & b/w)","lnLR":16.67},{"theta":0.044,"series":"LB (w/i & b/w)","lnLR":16.62},{"theta":0.0445,"series":"LB (w/i & b/w)","lnLR":16.58},{"theta":0.045,"series":"LB (w/i & b/w)","lnLR":16.54},{"theta":0.0455,"series":"LB (w/i & b/w)","lnLR":16.49},{"theta":0.046,"series":"LB (w/i & b/w)","lnLR":16.45},{"theta":0.0465,"series":"LB (w/i & b/w)","lnLR":16.41},{"theta":0.047,"series":"LB (w/i & b/w)","lnLR":16.37},{"theta":0.0475,"series":"LB (w/i & b/w)","lnLR":16.32},{"theta":0.048,"series":"LB (w/i & b/w)","lnLR":16.28},{"theta":0.0485,"series":"LB (w/i & b/w)","lnLR":16.24},{"theta":0.049,"series":"LB (w/i & b/w)","lnLR":16.2},{"theta":0.0495,"series":"LB (w/i & b/w)","lnLR":16.16},{"theta":0.05,"series":"LB (w/i & b/w)","lnLR":16.11},{"theta":0.0505,"series":"LB (w/i & b/w)","lnLR":16.07},{"theta":0.051,"series":"LB (w/i & b/w)","lnLR":16.03},{"theta":0.0515,"series":"LB (w/i & b/w)","lnLR":15.99},{"theta":0.052,"series":"LB (w/i & b/w)","lnLR":15.95},{"theta":0.0525,"series":"LB (w/i & b/w)","lnLR":15.91},{"theta":0.053,"series":"LB (w/i & b/w)","lnLR":15.87},{"theta":0.0535,"series":"LB (w/i & b/w)","lnLR":15.83},{"theta":0.054,"series":"LB (w/i & b/w)","lnLR":15.79},{"theta":0.0545,"series":"LB (w/i & b/w)","lnLR":15.75},{"theta":0.055,"series":"LB (w/i & b/w)","lnLR":15.71},{"theta":0.0555,"series":"LB (w/i & b/w)","lnLR":15.68},{"theta":0.056,"series":"LB (w/i & b/w)","lnLR":15.64},{"theta":0.0565,"series":"LB (w/i & b/w)","lnLR":15.6},{"theta":0.057,"series":"LB (w/i & b/w)","lnLR":15.56},{"theta":0.0575,"series":"LB (w/i & b/w)","lnLR":15.53},{"theta":0.058,"series":"LB (w/i & b/w)","lnLR":15.49},{"theta":0.0585,"series":"LB (w/i & b/w)","lnLR":15.45},{"theta":0.059,"series":"LB (w/i & b/w)","lnLR":15.42},{"theta":0.0595,"series":"LB (w/i & b/w)","lnLR":15.38},{"theta":0.06,"series":"LB (w/i & b/w)","lnLR":15.34},{"theta":0.0605,"series":"LB (w/i & b/w)","lnLR":15.31},{"theta":0.061,"series":"LB (w/i & b/w)","lnLR":15.27},{"theta":0.0615,"series":"LB (w/i & b/w)","lnLR":15.23},{"theta":0.062,"series":"LB (w/i & b/w)","lnLR":15.2},{"theta":0.0625,"series":"LB (w/i & b/w)","lnLR":15.16}
]},
"data": {"name": "curves"},
"encoding": {
  "x": {"field": "theta", "type": "quantitative",
    "scale": {"domain": [0, 0.0625], "nice": false, "zero": false},
    "axis": {"title": "Theta", "values": [0,0.004,0.008,0.012,0.016,0.02,0.024,0.028,0.032,0.036,0.04,0.044,0.048,0.052,0.056,0.06],
      "format": ".3f", "grid": false, "labelAngle": 55, "labelAlign": "left", "labelBaseline": "middle",
      "labelPadding": 19, "labelFontSize": 18, "labelColor": "#000", "labelOverlap": false, "labelFlush": false,
      "tickSize": 7, "tickColor": "#000", "domainColor": "#000",
      "titleFontSize": 31, "titleFontWeight": "bold", "titleColor": "#000", "titlePadding": 23}},
  "y": {"field": "lnLR", "type": "quantitative",
    "scale": {"domain": [14, 26], "nice": false, "zero": false},
    "axis": {"title": "Ln(LR)", "values": [14,16,18,20,22,24,26], "format": ".1f",
      "grid": true, "gridColor": "#000", "gridOpacity": 1, "gridWidth": 1,
      "labelPadding": 9, "labelFontSize": 18, "labelColor": "#000",
      "tickSize": 8, "tickColor": "#000", "domainColor": "#000",
      "titleFontSize": 31, "titleFontWeight": "bold", "titleColor": "#000", "titlePadding": 24}}
},
"layer": [
  {"transform": [{"filter": "datum.series !== 'LR'"}],
   "mark": {"type": "point", "filled": false, "opacity": 1},
   "encoding": {
     "shape": {"field": "series", "type": "nominal",
       "scale": {"domain": ["UB (w/i & b/w)", "UB (w/i)", "LR", "LB (w/i)", "LB (w/i & b/w)"],
                 "range": ["M-1,0L1,0M0,-1L0,1", "M-1,-1L1,1M-1,1L1,-1", "M-3,0L3,0", "M-1,-1L1,1M-1,1L1,-1", "M-1,0L1,0M0,-1L0,1"]},
       "legend": {"title": null, "orient": "none", "legendX": 880, "legendY": 0,
         "strokeColor": "#000", "fillColor": "#fff", "padding": 11, "rowPadding": 16.6,
         "symbolOffset": 23, "labelOffset": 11, "labelFontSize": 20, "labelFont": "Liberation Sans", "labelColor": "#000"}},
     "color": {"field": "series", "type": "nominal",
       "scale": {"domain": ["UB (w/i & b/w)", "UB (w/i)", "LR", "LB (w/i)", "LB (w/i & b/w)"],
                 "range": ["#000000", "#808080", "#000000", "#808080", "#000000"]}},
     "size": {"field": "series", "type": "nominal",
       "scale": {"type": "ordinal", "domain": ["UB (w/i & b/w)", "UB (w/i)", "LR", "LB (w/i)", "LB (w/i & b/w)"],
                 "range": [42, 30, 152, 30, 42]}},
     "strokeWidth": {"field": "series", "type": "nominal",
       "scale": {"type": "ordinal", "domain": ["UB (w/i & b/w)", "UB (w/i)", "LR", "LB (w/i)", "LB (w/i & b/w)"],
                 "range": [1, 1, 3.5, 1, 1]}}
   }},
  {"transform": [{"filter": "datum.series === 'LR'"}],
   "mark": {"type": "line", "color": "#000", "strokeWidth": 3.5},
   "encoding": {}}
]
}
